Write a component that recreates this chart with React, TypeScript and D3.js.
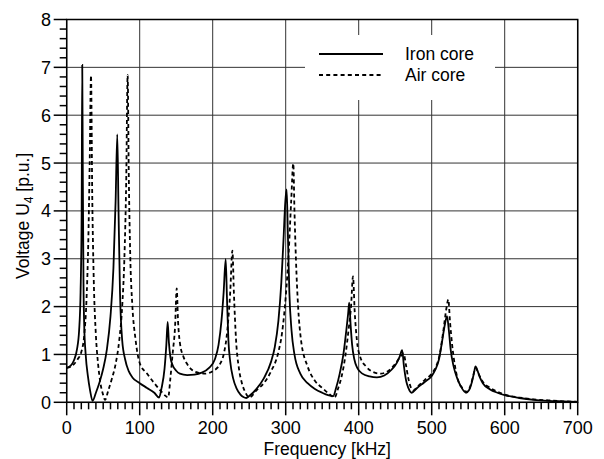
import React from "react";
import * as d3 from "d3";

// values
const ironFreq = [0, 5, 10, 14, 17, 19, 20.5, 21.3, 22, 23, 24, 26, 29, 32, 35.5, 40, 45, 50, 55, 60, 64, 67, 69.3, 71, 73, 76, 80, 85, 90, 100, 110, 120, 126.5, 130, 134, 136.5, 138.3, 140, 142, 145, 150, 155, 165, 175, 185, 195, 203, 208, 212, 215, 217.8, 219.5, 221.5, 224, 228, 233, 238, 242, 246, 250, 260, 270, 280, 285, 290, 294, 297, 299.5, 301.3, 303, 305, 308, 312, 320, 330, 340, 350, 358, 365, 369, 374, 379, 383, 385.5, 387, 389, 391, 394, 398, 405, 415, 425, 435, 445, 452, 456, 459.5, 462, 465, 468, 472.5, 480, 490, 500, 505, 510, 514, 518, 521, 523.5, 526, 530, 535, 540, 547, 551, 555, 558, 560, 563, 566, 570, 580, 590, 600, 620, 640, 660, 680, 700];
const ironVolt = [0.72, 0.76, 0.88, 1.1, 1.5, 2.3, 4, 7.05, 5, 2.5, 1.6, 1.0, 0.55, 0.25, 0.03, 0.2, 0.42, 0.7, 1.1, 1.8, 2.8, 4.2, 5.6, 4, 2.3, 1.3, 0.9, 0.65, 0.52, 0.4, 0.3, 0.2, 0.1, 0.3, 0.7, 1.2, 1.68, 1.25, 0.95, 0.78, 0.66, 0.6, 0.57, 0.58, 0.62, 0.72, 0.9, 1.2, 1.7, 2.3, 2.99, 2.2, 1.3, 0.85, 0.5, 0.28, 0.16, 0.11, 0.09, 0.13, 0.28, 0.5, 0.85, 1.15, 1.7, 2.5, 3.4, 4.2, 4.45, 3.5, 2.3, 1.5, 1.0, 0.6, 0.4, 0.28, 0.2, 0.15, 0.13, 0.3, 0.6, 1.0, 1.5, 1.85, 2.08, 1.6, 1.2, 0.9, 0.72, 0.6, 0.54, 0.52, 0.56, 0.68, 0.82, 0.95, 1.09, 0.75, 0.45, 0.3, 0.2, 0.3, 0.42, 0.55, 0.68, 0.9, 1.25, 1.62, 1.8, 1.5, 1.1, 0.75, 0.5, 0.33, 0.2, 0.25, 0.42, 0.62, 0.75, 0.65, 0.52, 0.4, 0.27, 0.2, 0.15, 0.09, 0.05, 0.03, 0.02, 0.01];

const airFreq = [0, 5, 10, 15, 20, 24, 27, 29.5, 31.5, 33.3, 35, 37, 40, 43, 46, 50, 52.5, 57, 62, 67, 72, 76, 79, 81.5, 83.5, 85, 87, 90, 94, 100, 110, 120, 130, 135, 139, 142, 145, 148.5, 150.7, 152.5, 155, 160, 165, 170, 180, 190, 200, 210, 215, 220, 224, 227, 229, 232, 236, 240, 245, 250, 260, 270, 280, 290, 295, 300, 304, 307.5, 310.4, 312, 314, 317, 321, 330, 340, 350, 360, 367, 372, 376, 382, 386, 389.5, 392.2, 394.5, 397.5, 402, 410, 420, 430, 440, 450, 457, 461.5, 464.5, 468, 471, 475, 480, 490, 500, 506, 511, 516, 520, 522.8, 525, 528, 532, 537, 542, 547.5, 552, 556, 558.5, 560.5, 563, 566, 570, 580, 590, 600, 620, 640, 660, 680, 700];
const airVolt = [0.72, 0.74, 0.8, 0.9, 1.05, 1.4, 2.1, 3.3, 5, 6.83, 4.3, 2.6, 1.4, 0.8, 0.42, 0.15, 0.05, 0.25, 0.5, 0.8, 1.3, 2.0, 3.0, 4.6, 6.84, 4.8, 3.1, 2.0, 1.35, 0.82, 0.6, 0.4, 0.22, 0.14, 0.1, 0.5, 1.0, 1.6, 2.38, 1.7, 1.25, 0.95, 0.8, 0.7, 0.62, 0.6, 0.65, 0.8, 1.0, 1.5, 2.3, 3.17, 2.3, 1.3, 0.7, 0.4, 0.2, 0.1, 0.25, 0.4, 0.65, 1.05, 1.45, 2.2, 3.1, 4.2, 4.99, 4.0, 3.0, 2.0, 1.3, 0.75, 0.45, 0.3, 0.17, 0.1, 0.3, 0.5, 1.0, 1.5, 2.0, 2.63, 1.9, 1.3, 0.95, 0.75, 0.63, 0.6, 0.65, 0.8, 0.95, 1.02, 0.8, 0.5, 0.33, 0.25, 0.32, 0.46, 0.6, 0.75, 1.0, 1.5, 1.95, 2.15, 1.7, 1.2, 0.75, 0.42, 0.3, 0.22, 0.3, 0.5, 0.65, 0.72, 0.64, 0.54, 0.43, 0.3, 0.22, 0.16, 0.1, 0.06, 0.04, 0.02, 0.01];

const xTicks = [0, 100, 200, 300, 400, 500, 600, 700];
const yTicks = [0, 1, 2, 3, 4, 5, 6, 7, 8];
const legendLabels = ["Iron core", "Air core"];

const W = 604;
const H = 459;
const FONT = "'Liberation Sans', Arial, sans-serif";

export default function App() {
  const x = d3.scaleLinear().domain([0, 700]).range([66.7, 577.7]);
  const y = d3.scaleLinear().domain([0, 8]).range([402.3, 19.5]);

  const line = d3
    .line<[number, number]>()
    .x((d) => x(d[0]))
    .y((d) => y(d[1]))
    .curve(d3.curveMonotoneX);

  const iron = ironFreq.map((f, i) => [f, ironVolt[i]] as [number, number]);
  const air = airFreq.map((f, i) => [f, airVolt[i]] as [number, number]);

  const xMinor = d3.range(0, 701, 10);
  const yMinor = d3.range(0, 8.01, 0.2);

  const [x0, x1] = x.range();
  const [y0, y1] = y.range();

  return (
    <svg
      width={W}
      height={H}
      style={{ position: "absolute", left: 0, top: 0, background: "#fff" }}
      fontFamily={FONT}
    >
      {/* grid */}
      <g stroke="#333" strokeWidth={1}>
        {xTicks.map((t) => (
          <line key={"gx" + t} x1={x(t)} x2={x(t)} y1={y0} y2={y1} />
        ))}
        {yTicks.map((t) => (
          <line key={"gy" + t} x1={x0} x2={x1} y1={y(t)} y2={y(t)} />
        ))}
      </g>

      {/* legend box hides the grid */}
      <rect x={305} y={35} width={190} height={65} fill="#fff" />
      <line x1={319} x2={383} y1={54} y2={54} stroke="#000" strokeWidth={1.8} />
      <line x1={319} x2={383} y1={75} y2={75} stroke="#000" strokeWidth={1.8} strokeDasharray="4,3.2" />
      <text x={405} y={60} fontSize={17.5}>{legendLabels[0]}</text>
      <text x={405} y={81} fontSize={17.5}>{legendLabels[1]}</text>

      {/* curves */}
      <path d={line(iron) || ""} fill="none" stroke="#000" strokeWidth={1.8} />
      <path d={line(air) || ""} fill="none" stroke="#000" strokeWidth={1.8} strokeDasharray="4,3" />

      {/* frame */}
      <rect x={x0} y={y1} width={x1 - x0} height={y0 - y1} fill="none" stroke="#000" strokeWidth={1.5} />

      {/* ticks */}
      <g stroke="#000" strokeWidth={1.5}>
        {xMinor.map((t) => (
          <line key={"xt" + t} x1={x(t)} x2={x(t)} y1={y0} y2={y0 + (t % 100 === 0 ? 13 : 7)} />
        ))}
        {yMinor.map((t, i) => (
          <line key={"yt" + i} x1={x0} x2={x0 - (i % 5 === 0 ? 13 : 7)} y1={y(t)} y2={y(t)} />
        ))}
      </g>

      {xTicks.map((t) => (
        <text key={"xl" + t} x={x(t)} y={434} fontSize={18} textAnchor="middle">
          {t}
        </text>
      ))}
      {yTicks.map((t) => (
        <text key={"yl" + t} x={51} y={y(t) + 6.5} fontSize={18} textAnchor="end">
          {t}
        </text>
      ))}

      <text x={(x0 + x1) / 2 + 5} y={455} fontSize={17.5} textAnchor="middle">
        Frequency [kHz]
      </text>
      <text transform={`translate(29,${(y0 + y1) / 2 + 5}) rotate(-90)`} fontSize={17.5} textAnchor="middle">
        Voltage U<tspan fontSize={12} dy={4}>4</tspan>
        <tspan dy={-4}> [p.u.]</tspan>
      </text>
    </svg>
  );
}
